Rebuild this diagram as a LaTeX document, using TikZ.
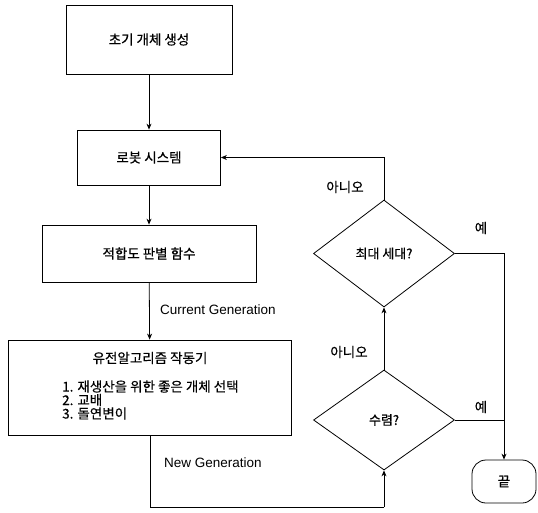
\documentclass[tikz,border=0pt]{standalone}
\usepackage{fontspec}
\setmainfont{Liberation Sans}
\newfontfamily\kr[FakeBold=0.5]{Noto Sans CJK KR}
\usetikzlibrary{shapes.geometric,arrows.meta}
\begin{document}
\begin{tikzpicture}[x=1pt,y=-1pt,
  box/.style={draw,line width=0.8pt,inner sep=0pt,font=\kr\fontsize{13.5}{13.5}\selectfont},
  dia/.style={draw,diamond,line width=0.8pt,inner sep=0pt,font=\kr\fontsize{13}{13}\selectfont},
  arr/.style={line width=0.8pt,-{Stealth[length=6pt,width=5pt]}},
  ln/.style={line width=0.8pt},
  lbl/.style={font=\fontsize{13.5}{14}\selectfont,inner sep=0pt},
  klbl/.style={font=\kr\fontsize{13.5}{13.5}\selectfont,inner sep=0pt}]
\useasboundingbox (0,0) rectangle (538,512);
\node[box,minimum width=166pt,minimum height=69pt] (b1) at (149,39.5) {초기 개체 생성};
\node[box,minimum width=143pt,minimum height=55pt] (b2) at (149,157.5) {로봇 시스템};
\node[box,minimum width=214pt,minimum height=57pt] (b3) at (149,253.5) {적합도 판별 함수};
\node[box,minimum width=283pt,minimum height=95pt] (b4) at (150,387.5) {};
\node[klbl] (t4) at (150,358) {유전알고리즘 작동기};
\node[klbl,anchor=west,align=left] (l4) at (62,400) {1. 재생산을 위한 좋은 개체 선택\\2. 교배\\3. 돌연변이};
\node[dia,minimum width=141pt,minimum height=107pt] (d1) at (384,253.5) {최대 세대?};
\node[dia,minimum width=141pt,minimum height=100pt] (d2) at (384,420) {수렴?};
\node[box,rounded corners=14pt,minimum width=64pt,minimum height=43pt] (e) at (504,481.5) {끝};
\coordinate (c1) at (384,507);
\draw[arr] (b1) -- (b2);
\draw[arr] (b2) -- (b3);
\draw[arr] (b3) -- (b4);
\node[lbl,anchor=west] (cg) at (160,310) {Current Generation};
\draw[ln] (b4.south) |- (c1);
\draw[arr] (c1) -- (d2.south);
\node[lbl,anchor=west] (ng) at (164,463) {New Generation};
\draw[arr] (d2.north) -- (d1.south);
\node[klbl] (n2) at (349,352) {아니오};
\draw[arr] (d1.north) |- (b2.east);
\node[klbl] (n1) at (345,187) {아니오};
\draw[arr] (d1.east) -| (e.north);
\draw[ln] (d2.east) -- (d2.east -| e.north);
\node[klbl] (y1) at (481,228) {예};
\node[klbl] (y2) at (481,407) {예};
\end{tikzpicture}
\end{document}
